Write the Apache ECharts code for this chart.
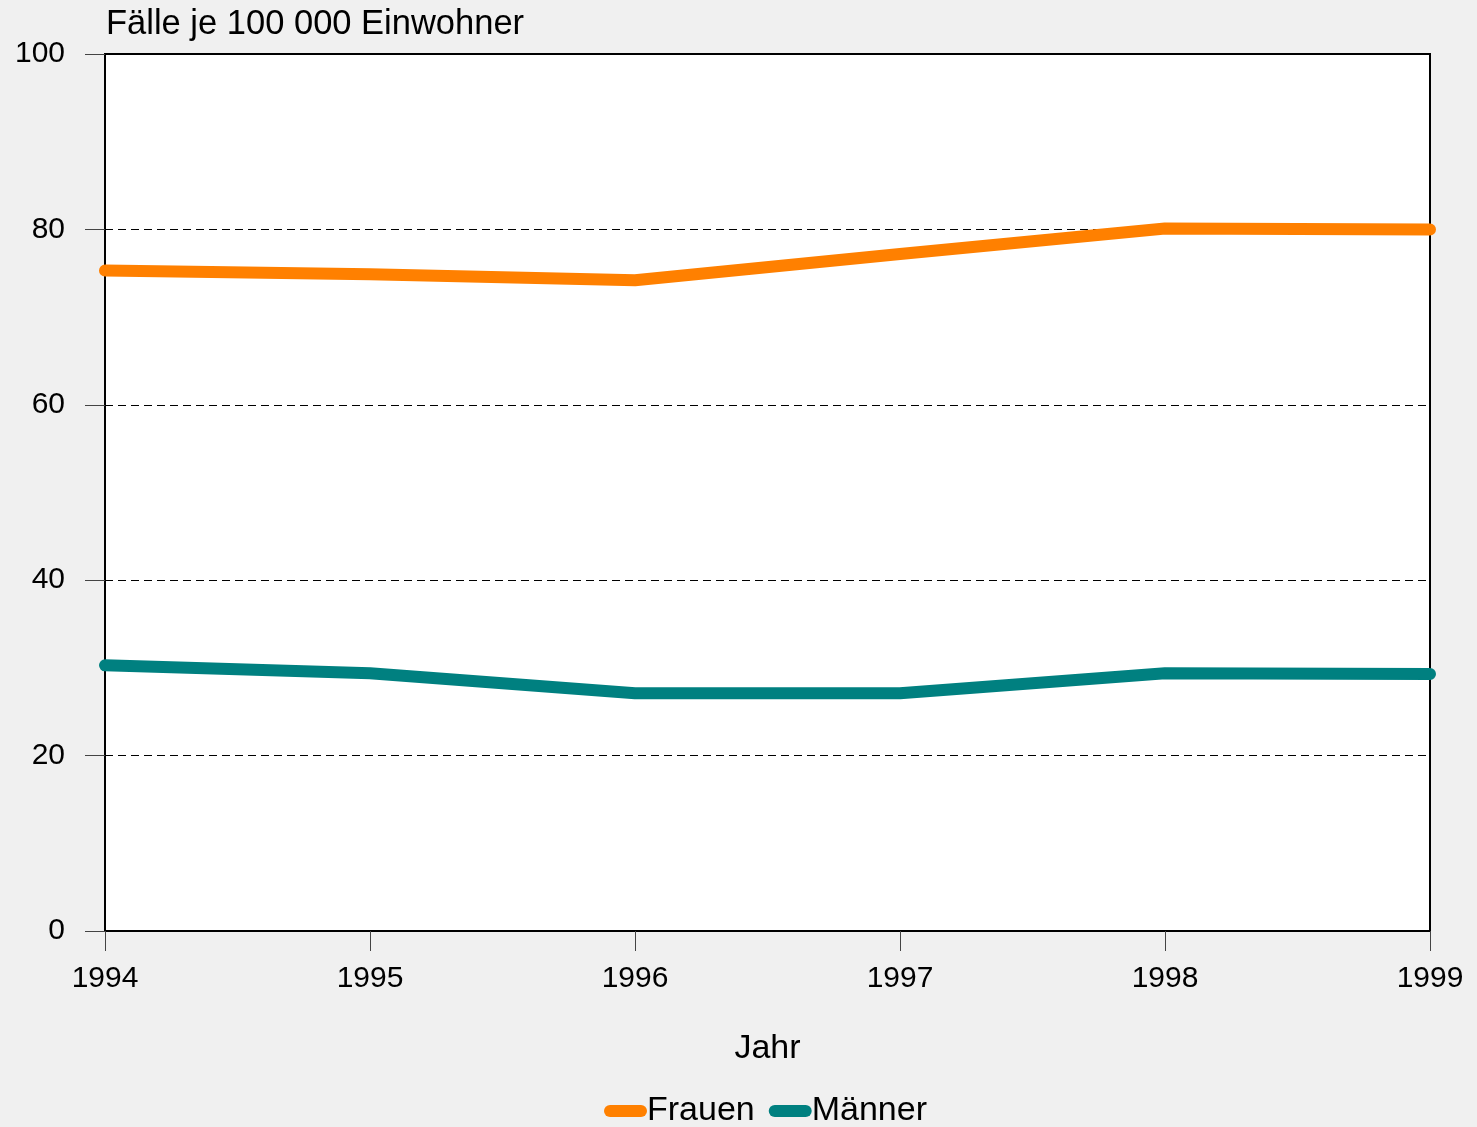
<!DOCTYPE html>
<html>
<head>
<meta charset="utf-8">
<style>
html,body{margin:0;padding:0;background:#f0f0f0;}
#chart{width:1477px;height:1127px;}
</style>
<script src="https://cdn.jsdelivr.net/npm/echarts@6/dist/echarts.min.js"></script>
</head>
<body>
<div id="chart"></div>
<script>
const years = ['1994','1995','1996','1997','1998','1999'];
const frauen = [75.3, 74.9, 74.2, 77.2, 80.1, 80.0];
const maenner = [30.3, 29.4, 27.1, 27.1, 29.4, 29.3];
const yTitle = 'Fälle je 100 000 Einwohner';
const xTitle = 'Jahr';
const seriesNames = ['Frauen', 'Männer'];

const FONT = '"Liberation Sans", Arial, sans-serif';
const chart = echarts.init(document.getElementById('chart'), null, {renderer: 'canvas'});
const legendIcon = 'path://M6,0 H37 A6,6 0 0 1 37,12 H6 A6,6 0 0 1 6,0 Z';
chart.setOption({
  backgroundColor: '#f0f0f0',
  animation: false,
  textStyle: {fontFamily: FONT},
  title: {
    text: yTitle,
    left: 106, top: 7, padding: 0,
    textStyle: {fontFamily: FONT, fontSize: 34.5, fontWeight: 'normal', color: '#000'}
  },
  grid: {
    left: 105, right: 47, top: 54, bottom: 196,
    show: true, backgroundColor: '#ffffff', borderColor: '#000', borderWidth: 2
  },
  legend: {
    data: seriesNames.map(n => ({name: n, icon: legendIcon})),
    top: 1089, left: 599,
    itemWidth: 43, itemHeight: 12, itemGap: 14,
    textStyle: {fontFamily: FONT, fontSize: 34, color: '#000', padding: [0, 0, 0, -5]}
  },
  xAxis: {
    type: 'category', data: years, boundaryGap: false,
    name: xTitle, nameLocation: 'middle', nameGap: 101,
    nameTextStyle: {fontFamily: FONT, fontSize: 34, color: '#000'},
    axisLine: {show: true, lineStyle: {color: '#000', width: 2}},
    axisTick: {show: true, length: 20, lineStyle: {color: '#444', width: 1}},
    axisLabel: {fontFamily: FONT, fontSize: 30, color: '#000', margin: 33},
    splitLine: {show: false}
  },
  yAxis: {
    type: 'value', min: 0, max: 100, interval: 20,
    axisLine: {show: true, lineStyle: {color: '#000', width: 2}},
    axisTick: {show: true, length: 20, lineStyle: {color: '#444', width: 1}},
    axisLabel: {fontFamily: FONT, fontSize: 30, color: '#000', margin: 40},
    splitLine: {show: true, lineStyle: {color: '#000', width: 1, type: [8, 5]}}
  },
  series: [
    {name: seriesNames[0], type: 'line', data: frauen, symbol: 'none',
     itemStyle: {color: '#ff8000'},
     lineStyle: {color: '#ff8000', width: 12, cap: 'round', join: 'bevel'}},
    {name: seriesNames[1], type: 'line', data: maenner, symbol: 'none',
     itemStyle: {color: '#008080'},
     lineStyle: {color: '#008080', width: 12, cap: 'round', join: 'bevel'}}
  ]
});
</script>
</body>
</html>
